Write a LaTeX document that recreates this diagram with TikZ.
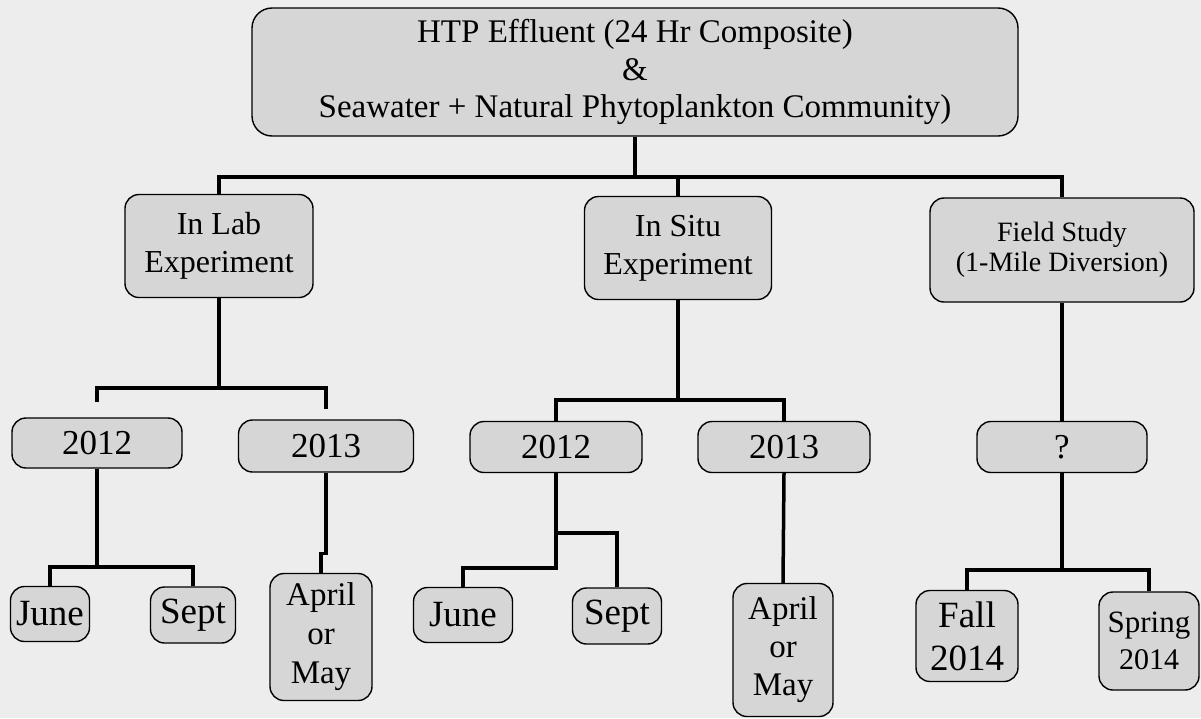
\documentclass[tikz,border=0pt]{standalone}
\usepackage{fontspec}
\setmainfont{Liberation Serif}
\begin{document}
\begin{tikzpicture}[x=1pt, y=-1pt]
    \tikzstyle{every node} = [align=center, inner sep=0pt]
    \tikzstyle{box} = [draw, line width=1.4pt, rounded corners=14pt, fill=black!16]
    \tikzstyle{root} = [box, rounded corners=20pt, font=\fontsize{33}{37.5}\selectfont]
    \tikzstyle{site} = [box, font=\fontsize{32}{38}\selectfont]
    \tikzstyle{fieldbox} = [box, font=\fontsize{28}{30}\selectfont]
    \tikzstyle{year} = [box, font=\fontsize{35}{40}\selectfont]
    \tikzstyle{month} = [box, font=\fontsize{37}{43}\selectfont]
    \tikzstyle{link} = [line width=3.5pt]
    \fill[black!7] (0,0) rectangle (1201,718);
    \useasboundingbox (0,0) rectangle (1201,718);

    % top level
    \node [root, minimum width=766, minimum height=128] (top) at (635,72)
        {HTP Effluent (24 Hr Composite)\\ \&\\ Seawater + Natural Phytoplankton Community)};

    % experiments
    \node [site, minimum width=188, minimum height=103] (lab) at (219,246) {In Lab\\ Experiment};
    \node [site, minimum width=187, minimum height=103] (situ) at (678,248) {In Situ\\ Experiment};
    \node [fieldbox, minimum width=264, minimum height=104] (field) at (1062,250) {Field Study\\ (1-Mile Diversion)};

    % years
    \node [year, minimum width=170, minimum height=50] (lab12) at (97,443) {2012};
    \node [year, minimum width=175, minimum height=52] (lab13) at (326,446) {2013};
    \node [year, minimum width=172, minimum height=51] (situ12) at (556,447) {2012};
    \node [year, minimum width=172, minimum height=51] (situ13) at (784,447) {2013};
    \node [year, minimum width=170, minimum height=51] (q) at (1062,447) {?};

    % months
    \node [month, minimum width=79, minimum height=55] (labjune) at (50,614) {June};
    \node [month, minimum width=85, minimum height=56] (labsept) at (193,615) {Sept};
    \node [box, font=\fontsize{33}{39}\selectfont, minimum width=102, minimum height=127] (labapr) at (321,637) {April\\ or\\ May};
    \node [month, minimum width=99, minimum height=55] (situjune) at (463,615) {June};
    \node [month, minimum width=89, minimum height=56] (situsept) at (617,616) {Sept};
    \node [box, font=\fontsize{33}{38}\selectfont, minimum width=100, minimum height=133] (situapr) at (783,650) {April\\ or\\ May};
    \node [month, minimum width=102, minimum height=91] (fall) at (967,636) {Fall\\ 2014};
    \node [box, font=\fontsize{31}{37}\selectfont, minimum width=100, minimum height=98] (spring) at (1149,641) {Spring\\ {\fontsize{30}{37}\selectfont 2014}};

    % connectors
    \coordinate (hub) at (635,177);
    \draw [link] (top.south) -- (hub);
    \draw [link] (lab.north) |- (hub) -| (field.north);
    \draw [link] (situ.north) -- (situ.north |- hub);

    \coordinate (labhub) at (219,388);
    \draw [link] (lab.south) -- (labhub);
    \draw [link, shorten >=15pt] (labhub) -| (lab12.north);
    \draw [link, shorten >=10pt] (labhub) -| (lab13.north);

    \coordinate (situhub) at (678,400);
    \draw [link] (situ.south) -- (situhub);
    \draw [link] (situ12.north) |- (situhub) -| (situ13.north);

    \draw [link] (field.south) -- (q.north);

    \coordinate (lab12hub) at (97,567);
    \draw [link] (lab12.south) -- (lab12hub);
    \draw [link] (labjune.north) |- (lab12hub) -| (labsept.north);
    \draw [link] (lab13.south) -- ++(0,81) -| (labapr.north);

    \coordinate (septhub) at (556,533);
    \coordinate (junehub) at (556,568);
    \draw [link] (situ12.south) -- (junehub) -| (situjune.north);
    \draw [link] (septhub) -| (situsept.north);
    \draw [link] (situ13.south) -- (situapr.north);

    \coordinate (qhub) at (1062,570);
    \draw [link] (q.south) -- (qhub);
    \draw [link] (fall.north) |- (qhub) -| (spring.north);
\end{tikzpicture}
\end{document}
